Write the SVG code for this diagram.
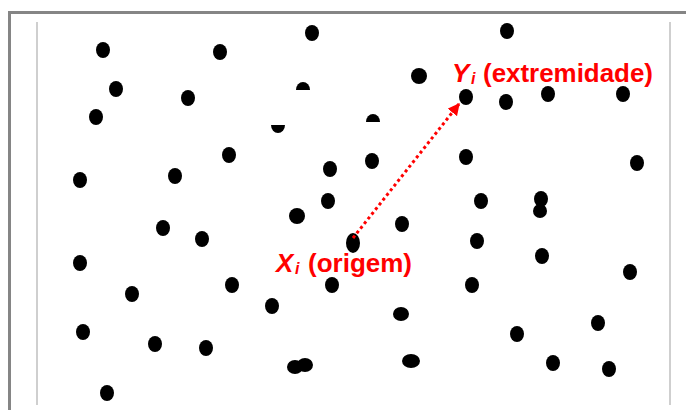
<svg xmlns="http://www.w3.org/2000/svg" width="686" height="410" viewBox="0 0 686 410">
<style>
.d{fill:#000}
.lbl{font-family:"Liberation Sans",Arial,sans-serif;font-weight:bold;fill:#ff0000}
.it{font-style:italic}
.frame{fill:none;stroke:#858585;stroke-width:3}
.inner{stroke:#cfcfcf;stroke-width:2}
</style>
<defs>
<marker id="ah" viewBox="0 0 10 10" refX="9" refY="5" markerWidth="4" markerHeight="4" orient="auto" markerUnits="strokeWidth">
<path d="M0 0 L10 5 L0 10 Z" fill="#ff0000"/>
</marker>
</defs>
<rect width="686" height="410" fill="#fff"/>
<g id="frame">
<path class="frame" d="M9.5 410 V12.5 H686"/>
<line class="inner" x1="37" y1="22" x2="37" y2="405"/>
<line class="inner" x1="670" y1="22" x2="670" y2="405"/>
</g>
<g id="points">
<ellipse class="d" cx="103" cy="50" rx="7" ry="8"/>
<ellipse class="d" cx="220" cy="52" rx="7" ry="8"/>
<ellipse class="d" cx="312" cy="33" rx="7" ry="8"/>
<ellipse class="d" cx="507" cy="31" rx="7" ry="8"/>
<ellipse class="d" cx="116" cy="89" rx="7" ry="8"/>
<ellipse class="d" cx="188" cy="98" rx="7" ry="8"/>
<path class="d" d="M296 90 A7 8 0 0 1 310 90 Z"/>
<ellipse class="d" cx="419" cy="76" rx="8" ry="8"/>
<ellipse class="d" cx="506" cy="102" rx="7" ry="8"/>
<ellipse class="d" cx="548" cy="94" rx="7" ry="8"/>
<ellipse class="d" cx="623" cy="94" rx="7" ry="8"/>
<ellipse class="d" cx="96" cy="117" rx="7" ry="8"/>
<path class="d" d="M271 125 L285 125 A7 8 0 0 1 271 125 Z"/>
<path class="d" d="M366 122 A7 8 0 0 1 380 122 Z"/>
<ellipse class="d" cx="80" cy="180" rx="7" ry="8"/>
<ellipse class="d" cx="175" cy="176" rx="7" ry="8"/>
<ellipse class="d" cx="229" cy="155" rx="7" ry="8"/>
<ellipse class="d" cx="330" cy="169" rx="7" ry="8"/>
<ellipse class="d" cx="372" cy="161" rx="7" ry="8"/>
<ellipse class="d" cx="466" cy="157" rx="7" ry="8"/>
<ellipse class="d" cx="637" cy="163" rx="7" ry="8"/>
<ellipse class="d" cx="328" cy="201" rx="7" ry="8"/>
<ellipse class="d" cx="297" cy="216" rx="8" ry="8"/>
<ellipse class="d" cx="481" cy="201" rx="7" ry="8"/>
<ellipse class="d" cx="541" cy="199" rx="7" ry="8"/>
<ellipse class="d" cx="540" cy="211" rx="7" ry="7"/>
<ellipse class="d" cx="163" cy="228" rx="7" ry="8"/>
<ellipse class="d" cx="202" cy="239" rx="7" ry="8"/>
<ellipse class="d" cx="402" cy="224" rx="7" ry="8"/>
<ellipse class="d" cx="477" cy="241" rx="7" ry="8"/>
<ellipse class="d" cx="542" cy="256" rx="7" ry="8"/>
<ellipse class="d" cx="80" cy="263" rx="7" ry="8"/>
<ellipse class="d" cx="630" cy="272" rx="7" ry="8"/>
<ellipse class="d" cx="232" cy="285" rx="7" ry="8"/>
<ellipse class="d" cx="332" cy="285" rx="7" ry="8"/>
<ellipse class="d" cx="472" cy="285" rx="7" ry="8"/>
<ellipse class="d" cx="132" cy="294" rx="7" ry="8"/>
<ellipse class="d" cx="272" cy="306" rx="7" ry="8"/>
<ellipse class="d" cx="401" cy="314" rx="8" ry="7"/>
<ellipse class="d" cx="598" cy="323" rx="7" ry="8"/>
<ellipse class="d" cx="83" cy="332" rx="7" ry="8"/>
<ellipse class="d" cx="155" cy="344" rx="7" ry="8"/>
<ellipse class="d" cx="206" cy="348" rx="7" ry="8"/>
<ellipse class="d" cx="517" cy="334" rx="7" ry="8"/>
<ellipse class="d" cx="295" cy="367" rx="8" ry="7"/>
<ellipse class="d" cx="305" cy="365" rx="8" ry="7"/>
<ellipse class="d" cx="411" cy="361" rx="9" ry="7"/>
<ellipse class="d" cx="553" cy="363" rx="7" ry="8"/>
<ellipse class="d" cx="609" cy="369" rx="7" ry="8"/>
<ellipse class="d" cx="107" cy="393" rx="7" ry="8"/>
</g>
<g id="node-xi">
<ellipse class="d" cx="353" cy="243" rx="7" ry="10"/>
<text class="lbl" font-size="26" y="272"><tspan class="it" x="276">X</tspan><tspan class="it" x="295" y="274" font-size="16">i</tspan><tspan x="308" y="272" textLength="104" lengthAdjust="spacingAndGlyphs">(origem)</tspan></text>
</g>
<g id="node-yi">
<ellipse class="d" cx="466" cy="97" rx="7" ry="8"/>
<text class="lbl" font-size="26" y="82"><tspan class="it" x="452">Y</tspan><tspan class="it" x="471" y="84" font-size="16">i</tspan><tspan x="483" y="82" textLength="170" lengthAdjust="spacingAndGlyphs">(extremidade)</tspan></text>
</g>
<g id="connectors">
<line x1="353" y1="238" x2="459" y2="104" stroke="#ff0000" stroke-width="3" stroke-dasharray="3 3" marker-end="url(#ah)"/>
</g>
</svg>
